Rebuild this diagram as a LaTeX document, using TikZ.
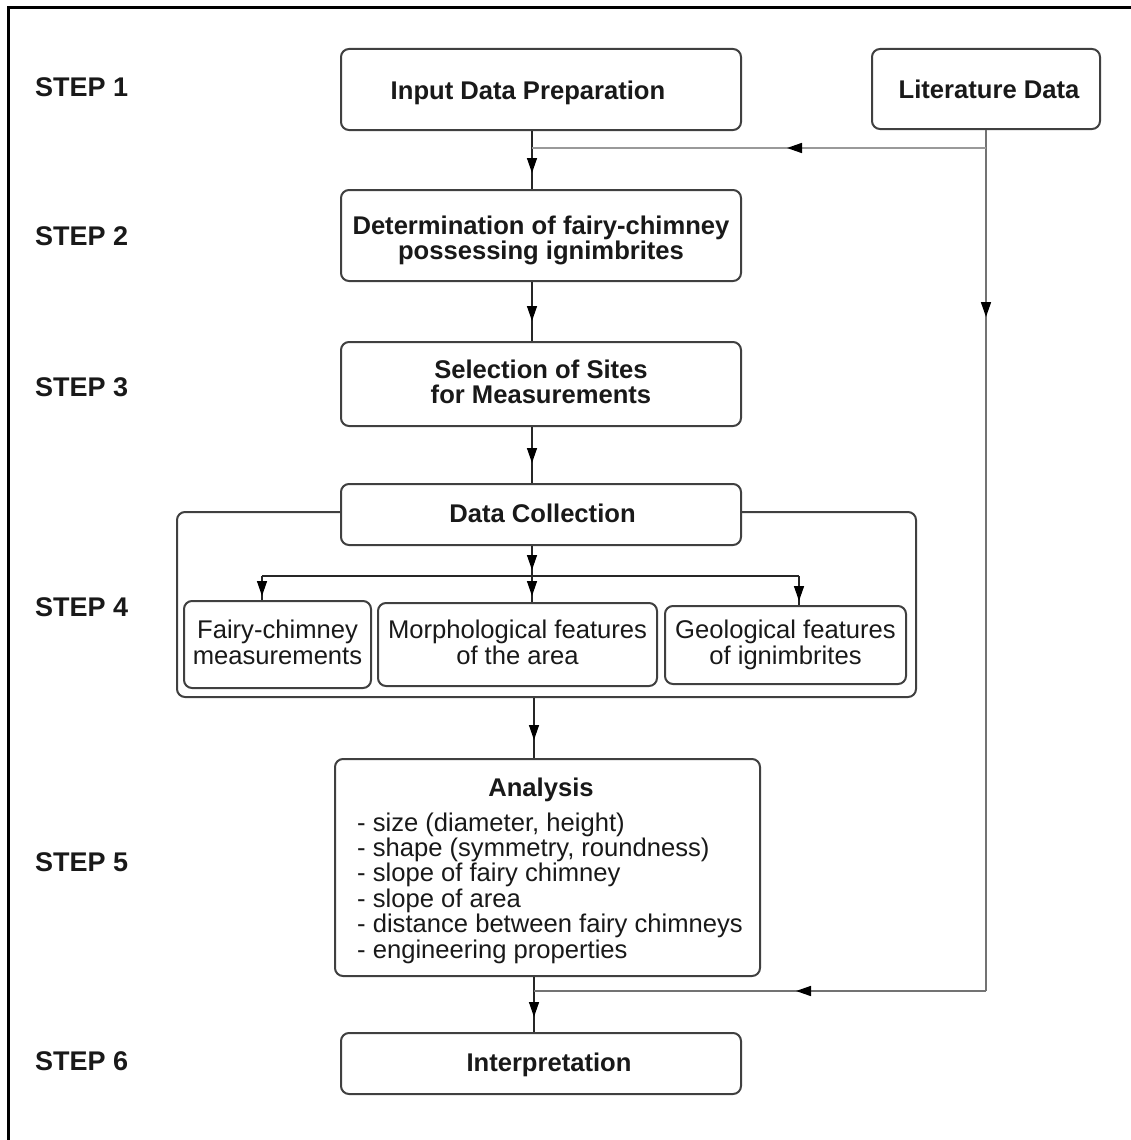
\documentclass[tikz,border=0pt]{standalone}
\usepackage{fontspec}
\setmainfont{Liberation Sans}
\usetikzlibrary{arrows.meta,decorations.markings}
\newcommand\boxtext[3]{\rule{0pt}{#1}#3\rule[-#2]{0pt}{0pt}}
\tikzset{
  box/.style={draw=black!75, line width=2pt, rounded corners=8pt, fill=white, align=center,
    font=\fontsize{25.6}{25}\selectfont\bfseries, text=black!90, inner sep=0pt},
  subbox/.style={box, font=\fontsize{25.6}{26}\selectfont},
  steplabel/.style={anchor=west, font=\fontsize{27}{27}\selectfont\bfseries, text=black!90, inner sep=0pt},
  listitem/.style={anchor=base west, font=\fontsize{25.6}{25.4}\selectfont, text=black!90, inner sep=0pt},
  conn/.style={draw=black!85, line width=1.4pt},
  litline/.style={draw=black!55, line width=1.6pt},
  litlight/.style={draw=black!40, line width=1.6pt},
  tipat/.style={postaction={decorate}, decoration={markings,
    mark=at position #1 with {\arrow{Triangle[length=15pt,width=10pt,color=black]}}}},
}
\begin{document}
\begin{tikzpicture}[x=1pt,y=-1pt]
\useasboundingbox (0,0) rectangle (1131,1140);
% frame (left and top edges)
\draw[line width=3pt, black] (8,1140) -- (8,7.5) -- (1131,7.5);

% step labels
\node[steplabel] (s1) at (35,87) {STEP 1};
\node[steplabel] (s2) at (35,236) {STEP 2};
\node[steplabel] (s3) at (35,387) {STEP 3};
\node[steplabel] (s4) at (35,607) {STEP 4};
\node[steplabel] (s5) at (35,862) {STEP 5};
\node[steplabel] (s6) at (35,1061) {STEP 6};

% boxes
\node[box, minimum width=400pt, minimum height=81pt] (input) at (541,89.5) {\boxtext{25.4pt}{6pt}{Input Data Preparation\hspace*{26pt}}};
\node[box, minimum width=228pt, minimum height=80pt] (lit) at (986,89) {\boxtext{24.4pt}{6pt}{\hspace*{6pt}Literature Data}};
\node[box, minimum width=400pt, minimum height=91pt] (det) at (541,235.5) {\boxtext{28.4pt}{6pt}{Determination of fairy-chimney\\possessing ignimbrites}};
\node[box, minimum width=400pt, minimum height=84pt] (sel) at (541,384) {\boxtext{19.4pt}{6pt}{Selection of Sites\\for Measurements}};
\node[box, minimum width=739pt, minimum height=185pt] (coll) at (546.5,604.5) {};
\node[box, minimum width=400pt, minimum height=61pt] (dc) at (541,514.5) {\boxtext{20.4pt}{5pt}{\hspace*{3pt}Data Collection}};
\node[subbox, minimum width=187pt, minimum height=87pt] (fairy) at (277.5,644.5) {\boxtext{20.4pt}{7pt}{Fairy-chimney\\measurements}};
\node[subbox, minimum width=279pt, minimum height=83pt] (morph) at (517.5,644.5) {\boxtext{20.4pt}{7pt}{Morphological features\\of the area}};
\node[subbox, minimum width=241pt, minimum height=78pt] (geol) at (785.5,645) {\boxtext{19.4pt}{7pt}{Geological features\\of ignimbrites}};
\node[box, minimum width=425pt, minimum height=217pt] (ana) at (547.5,867.5) {};
\node[anchor=base, font=\fontsize{25.6}{25.5}\selectfont\bfseries, text=black!90, inner sep=0pt] (anatitle) at (541,796) {Analysis};
\foreach \t [count=\i] in {{- size (diameter, height)}, {- shape (symmetry, roundness)}, {- slope of fairy chimney}, {- slope of area}, {- distance between fairy chimneys}, {- engineering properties}}
  \node[listitem] (li\i) at (357,{805.6+\i*25.4}) {\t};
\node[box, minimum width=400pt, minimum height=61pt] (interp) at (541,1063.5) {\boxtext{21.4pt}{6pt}{\hspace*{16pt}Interpretation}};

% connector helpers
\coordinate (cx) at (532,0);
\coordinate (cy) at (534,0);
\coordinate (bl) at (262,576);
\coordinate (bc) at (532,576);
\coordinate (br) at (799,576);
\coordinate (lt) at (986,148);
\coordinate (lb) at (986,991);
\coordinate (jt) at (532,148);
\coordinate (jb) at (534,991);

% main flow
\draw[conn, tipat=-16pt] (input.south -| cx) -- (det.north -| cx);
\draw[conn, tipat=-20pt] (det.south -| cx) -- (sel.north -| cx);
\draw[conn, tipat=-20pt] (sel.south -| cx) -- (dc.north -| cx);
\draw[conn, tipat=-6pt] (dc.south -| cx) -- (bc);
\draw[conn, tipat=-6pt] (bc) -- (morph.north -| cx);
\draw[conn] (bl) -- (br);
\draw[conn, tipat=-4pt] (bl) -- (fairy.north -| bl);
\draw[conn, tipat=-4pt] (br) -- (geol.north -| br);
\draw[conn, tipat=-18pt] (coll.south -| cy) -- (ana.north -| cy);
\draw[conn, tipat=-15pt] (ana.south -| cy) -- (interp.north -| cy);

% literature feed
\draw[litline, tipat=187pt] (lit.south) -- (lb);
\draw[litlight, tipat=199pt] (lt) -- (jt);
\draw[litline, tipat=190pt] (lb) -- (jb);
\end{tikzpicture}
\end{document}
